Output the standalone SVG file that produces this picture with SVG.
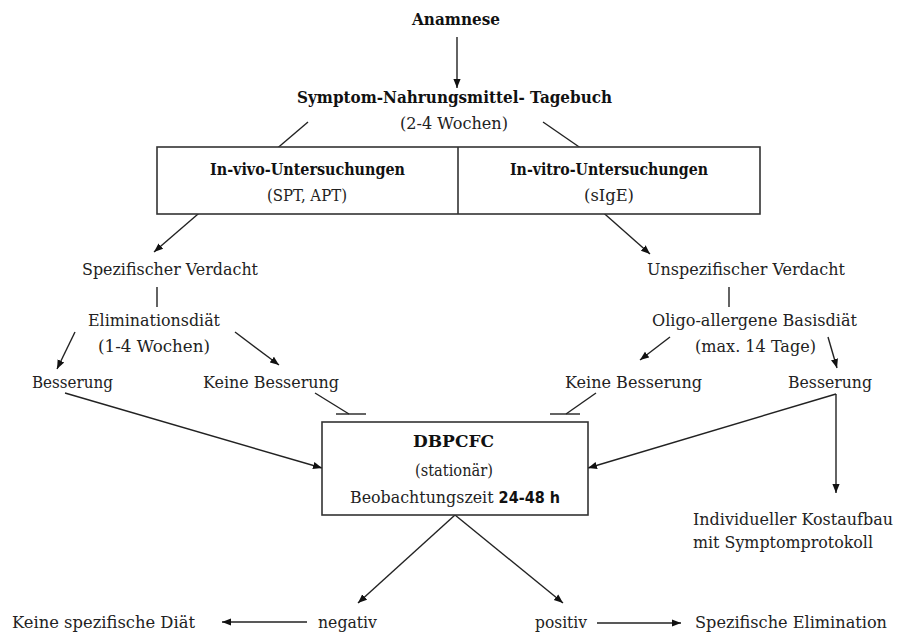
<svg xmlns="http://www.w3.org/2000/svg" width="898" height="634" viewBox="0 0 898 634">
<defs>
<marker id="ah" viewBox="0 0 10 10" refX="10" refY="5" markerWidth="9" markerHeight="9" markerUnits="userSpaceOnUse" orient="auto"><path d="M0,1 L10,5 L0,9 z" fill="#111"/></marker>
<style>
text{font-family:"DejaVu Serif","Liberation Serif",serif;font-size:16.5px;fill:#222}
.b{font-weight:bold;font-size:16px;fill:#111}
.bs{font-family:"DejaVu Sans","Liberation Sans",sans-serif;font-weight:bold;font-size:15px;fill:#111}
.c{stroke:#222;stroke-width:1.4;fill:none}
.a{marker-end:url(#ah)}
.box{fill:#fff;stroke:#333;stroke-width:1.6}
</style>
</defs>
<rect width="898" height="634" fill="#fff"/>

<g id="connectors">
<line class="c a" x1="457" y1="37" x2="457" y2="88"/>
<line class="c" x1="308" y1="122" x2="274" y2="151"/>
<line class="c" x1="543" y1="122" x2="585" y2="151"/>
<line class="c a" x1="205" y1="208" x2="154" y2="252"/>
<line class="c a" x1="598" y1="208" x2="650" y2="254"/>
<line class="c" x1="157" y1="287" x2="157" y2="307"/>
<line class="c a" x1="75" y1="332" x2="57" y2="369"/>
<line class="c a" x1="235" y1="332" x2="279" y2="365"/>
<line class="c" x1="729" y1="287" x2="729" y2="307"/>
<line class="c a" x1="670" y1="337" x2="640" y2="360"/>
<line class="c a" x1="828" y1="337" x2="837" y2="368"/>
<line class="c a" x1="65" y1="393" x2="322" y2="468"/>
<line class="c" x1="315" y1="393" x2="349" y2="414"/>
<line class="c" x1="336" y1="414" x2="366" y2="414"/>
<line class="c" x1="596" y1="393" x2="566" y2="414"/>
<line class="c" x1="550" y1="414" x2="580" y2="414"/>
<line class="c a" x1="836" y1="394" x2="588" y2="468"/>
<line class="c a" x1="836" y1="394" x2="836" y2="493"/>
<line class="c a" x1="455" y1="515" x2="358" y2="603"/>
<line class="c a" x1="455" y1="515" x2="563" y2="603"/>
<line class="c a" x1="307" y1="622" x2="222" y2="622"/>
<line class="c a" x1="597" y1="623" x2="681" y2="623"/>
</g>

<g id="anamnese"><text class="b" x="412" y="25" textLength="88" lengthAdjust="spacingAndGlyphs">Anamnese</text></g>
<g id="tagebuch">
<text class="b" x="297" y="103" textLength="315" lengthAdjust="spacingAndGlyphs">Symptom-Nahrungsmittel- Tagebuch</text>
<text x="400" y="129" textLength="108" lengthAdjust="spacingAndGlyphs">(2-4 Wochen)</text>
</g>
<g id="untersuchungen">
<rect class="box" x="157" y="147" width="603" height="67"/>
<line x1="458" y1="147" x2="458" y2="214" stroke="#333" stroke-width="1.6"/>
<text class="b" x="210" y="175" textLength="195" lengthAdjust="spacingAndGlyphs">In-vivo-Untersuchungen</text>
<text x="267" y="201" textLength="80" lengthAdjust="spacingAndGlyphs">(SPT, APT)</text>
<text class="b" x="510" y="175" textLength="198" lengthAdjust="spacingAndGlyphs">In-vitro-Untersuchungen</text>
<text x="584" y="201" textLength="50" lengthAdjust="spacingAndGlyphs">(sIgE)</text>
</g>
<g id="spez-verdacht"><text x="82" y="275" textLength="176" lengthAdjust="spacingAndGlyphs">Spezifischer Verdacht</text></g>
<g id="elimdiaet">
<text x="88" y="326" textLength="132" lengthAdjust="spacingAndGlyphs">Eliminationsdiät</text>
<text x="98" y="352" textLength="112" lengthAdjust="spacingAndGlyphs">(1-4 Wochen)</text>
</g>
<g id="besserung-l"><text x="32" y="388" textLength="81" lengthAdjust="spacingAndGlyphs">Besserung</text></g>
<g id="keine-l"><text x="203" y="388" textLength="136" lengthAdjust="spacingAndGlyphs">Keine Besserung</text></g>
<g id="unspez-verdacht"><text x="647" y="275" textLength="198" lengthAdjust="spacingAndGlyphs">Unspezifischer Verdacht</text></g>
<g id="oligo">
<text x="652" y="326" textLength="205" lengthAdjust="spacingAndGlyphs">Oligo-allergene Basisdiät</text>
<text x="695" y="352" textLength="121" lengthAdjust="spacingAndGlyphs">(max. 14 Tage)</text>
</g>
<g id="keine-r"><text x="565" y="388" textLength="137" lengthAdjust="spacingAndGlyphs">Keine Besserung</text></g>
<g id="besserung-r"><text x="788" y="388" textLength="84" lengthAdjust="spacingAndGlyphs">Besserung</text></g>
<g id="dbpcfc">
<rect class="box" x="322" y="422" width="266" height="93"/>
<text class="b" x="413" y="447" textLength="81" lengthAdjust="spacingAndGlyphs">DBPCFC</text>
<text x="415" y="476" textLength="78" lengthAdjust="spacingAndGlyphs">(stationär)</text>
<text x="350" y="503" textLength="210" lengthAdjust="spacingAndGlyphs">Beobachtungszeit <tspan class="bs">24-48 h</tspan></text>
</g>
<g id="kostaufbau">
<text x="693" y="525" textLength="200" lengthAdjust="spacingAndGlyphs">Individueller Kostaufbau</text>
<text x="693" y="548" textLength="180" lengthAdjust="spacingAndGlyphs">mit Symptomprotokoll</text>
</g>
<g id="keine-diaet"><text x="12" y="628" textLength="183" lengthAdjust="spacingAndGlyphs">Keine spezifische Diät</text></g>
<g id="negativ"><text x="318" y="628" textLength="59" lengthAdjust="spacingAndGlyphs">negativ</text></g>
<g id="positiv"><text x="535" y="628" textLength="52" lengthAdjust="spacingAndGlyphs">positiv</text></g>
<g id="spez-elim"><text x="695" y="628" textLength="192" lengthAdjust="spacingAndGlyphs">Spezifische Elimination</text></g>
</svg>
